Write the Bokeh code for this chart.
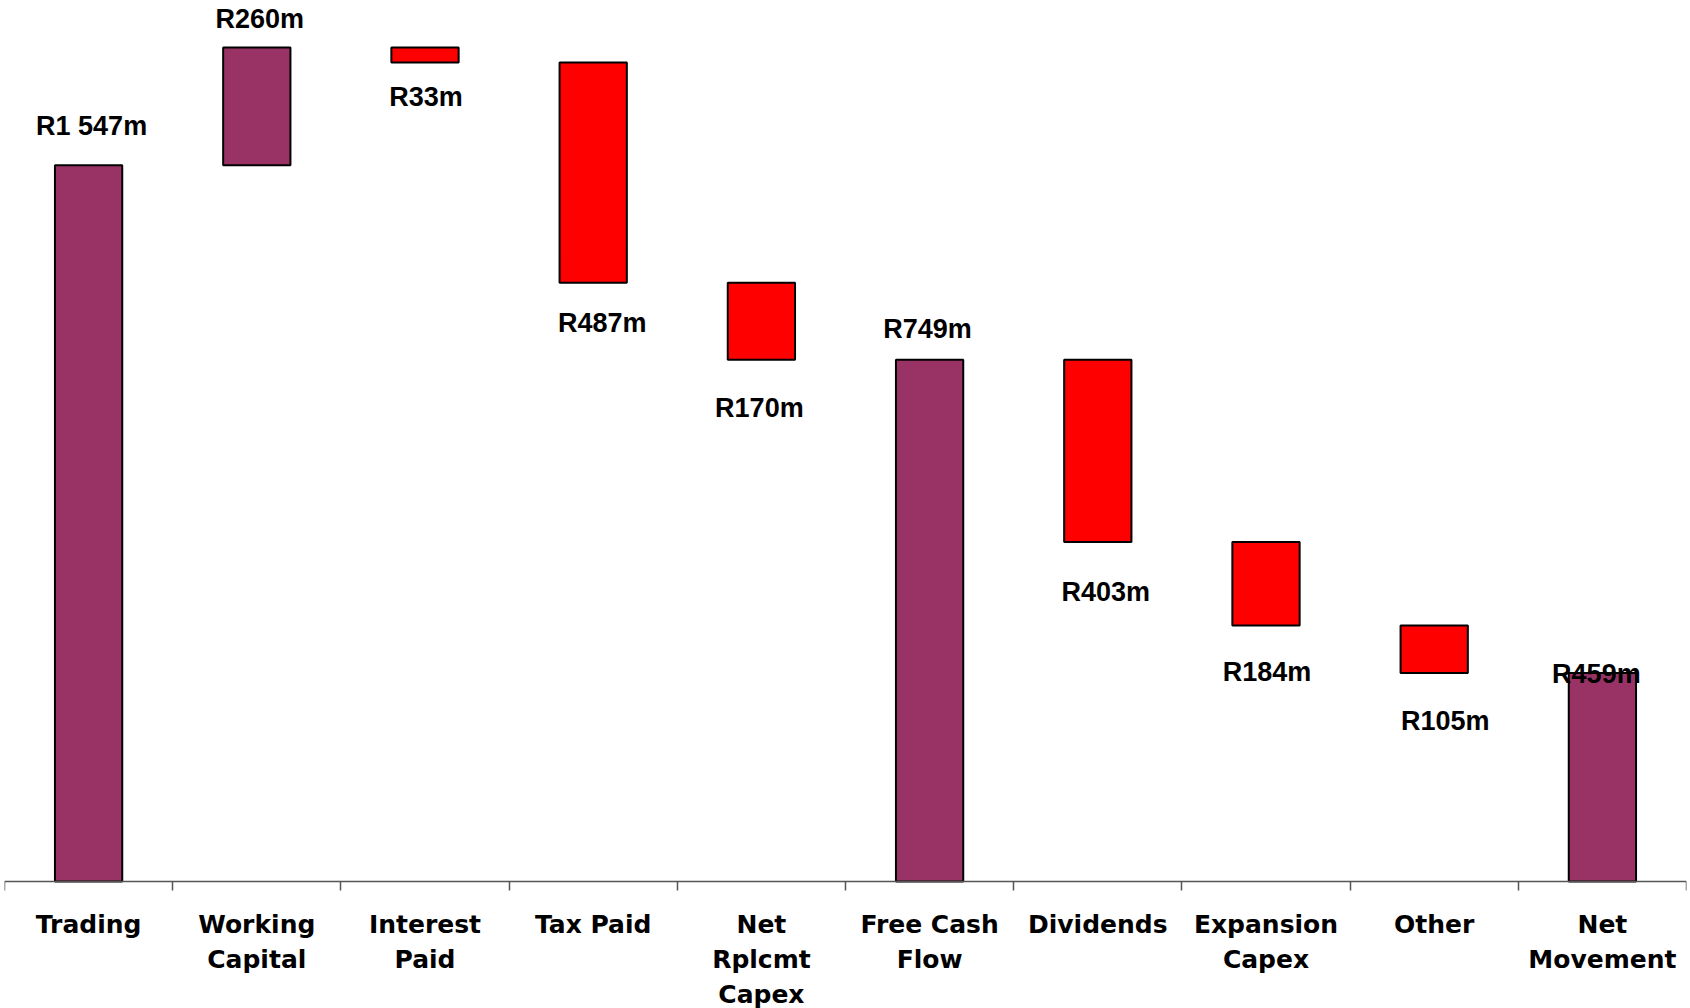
from bokeh.plotting import figure
from bokeh.models import Range1d, FixedTicker, ColumnDataSource, LabelSet
from bokeh.core.properties import value
from bokeh.embed import file_html
from bokeh.resources import INLINE

# ---- data ----
categories = ["Trading", "Working\nCapital", "Interest\nPaid", "Tax Paid",
              "Net\nRplcmt\nCapex", "Free Cash\nFlow", "Dividends",
              "Expansion\nCapex", "Other", "Net\nMovement"]
# bar steps in R m; None marks a subtotal bar drawn from zero
steps = [1583, 260, -33, -487, -170, None, -403, -184, -105, None]
value_labels = ["R1 547m", "R260m", "R33m", "R487m", "R170m",
                "R749m", "R403m", "R184m", "R105m", "R459m"]

# ---- styling (label offsets in screen pixels) ----
label_dx = [3, 3, 1, 9, -2, -2, 8, 1, 11, -6]
label_dy = [30, 20, -44, -49, -57, 22, -59, -56, -57, -10]
UP = "#993366"
DOWN = "#FF0000"

# ---- build waterfall ----
xs, bottoms, tops, colors, anchors = [], [], [], [], []
running = 0
for i, s in enumerate(steps):
    x = i + 1
    if s is None:
        b, t = 0, running
        c = UP
        a = t
    else:
        b, t = running, running + s
        running = t
        c = UP if s > 0 else DOWN
        a = max(b, t) if s > 0 else min(b, t)
    xs.append(x)
    bottoms.append(b)
    tops.append(t)
    colors.append(c)
    anchors.append(a)

src = ColumnDataSource(dict(x=xs, bottom=bottoms, top=tops, color=colors,
                            ly=anchors, label=value_labels,
                            dx=label_dx, dy=label_dy))

p = figure(width=1690, height=1008,
           x_range=Range1d(0.5, len(categories) + 0.5),
           y_range=Range1d(-280.7, 1947),
           output_backend="svg", toolbar_location=None,
           min_border_left=4, min_border_right=4,
           min_border_top=0, min_border_bottom=0)
p.outline_line_color = None
p.xgrid.visible = False
p.ygrid.visible = False
p.yaxis.visible = False
p.background_fill_color = "white"
p.border_fill_color = "white"

p.vbar(x="x", width=0.4, bottom="bottom", top="top", source=src,
       fill_color="color", line_color="black", line_width=2)

labels = LabelSet(x="x", y="ly", text="label", source=src,
                  x_offset="dx", y_offset="dy",
                  text_font=value("Liberation Sans"), text_font_style="bold",
                  text_font_size="27px", text_color="black",
                  text_align="center", text_baseline="alphabetic")
p.add_layout(labels)

xa = p.xaxis[0]
xa.fixed_location = 0
xa.ticker = FixedTicker(ticks=xs, minor_ticks=[i + 0.5 for i in range(len(categories) + 1)])
xa.major_label_overrides = {x: c for x, c in zip(xs, categories)}
xa.major_tick_in = 0
xa.major_tick_out = 0
xa.minor_tick_in = 0
xa.minor_tick_out = 9
xa.minor_tick_line_color = "#555555"
xa.minor_tick_line_width = 1.5
xa.axis_line_color = "#555555"
xa.axis_line_width = 1.5
xa.major_label_text_font = "DejaVu Sans"
xa.major_label_text_font_style = "bold"
xa.major_label_text_font_size = "25px"
xa.major_label_text_color = "black"
xa.major_label_text_line_height = 1.2
xa.major_label_standoff = 20

open("out.html", "w").write(file_html(p, INLINE))
